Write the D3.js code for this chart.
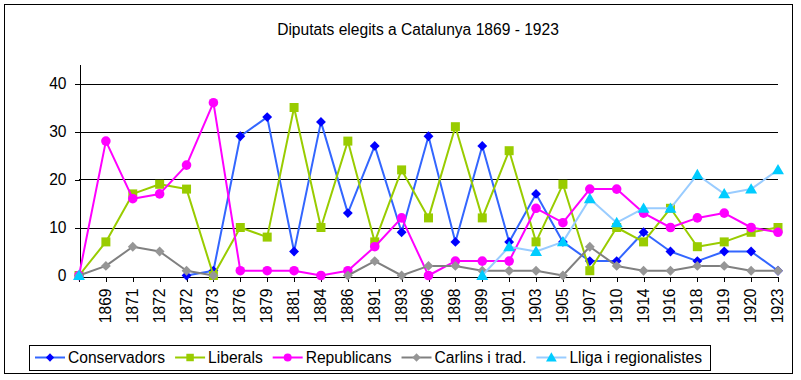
<!DOCTYPE html>
<html><head><meta charset="utf-8">
<script src="https://cdn.jsdelivr.net/npm/d3@7/dist/d3.min.js"></script>
<style>body{margin:0;background:#fff} text{font-family:Arial,"Liberation Sans",sans-serif;fill:#000}</style>
</head><body><svg id="c" width="801" height="380"></svg>
<script>
const title = "Diputats elegits a Catalunya 1869 - 1923";
const categories = ["", "1869", "1871", "1872", "1872", "1873", "1876", "1879", "1881", "1884", "1886", "1891", "1893", "1896", "1898", "1899", "1901", "1903", "1905", "1907", "1910", "1914", "1916", "1918", "1919", "1920", "1923"];
const yTicks = [0, 10, 20, 30, 40];
const conservadors = [null, null, null, null, 0, 1, 29, 33, 5, 32, 13, 27, 9, 29, 7, 27, 7, 17, 7, 3, 3, 9, 5, 3, 5, 5, 1];
const liberals = [0, 7, 17, 19, 18, 0, 10, 8, 35, 10, 28, 7, 22, 12, 31, 12, 26, 7, 19, 1, 10, 7, 14, 6, 7, 9, 10];
const republicans = [0, 28, 16, 17, 23, 36, 1, 1, 1, 0, 1, 6, 12, 0, 3, 3, 3, 14, 11, 18, 18, 13, 10, 12, 13, 10, 9];
const carlins = [0, 2, 6, 5, 1, 0, null, null, null, null, 0, 3, 0, 2, 2, 1, 1, 1, 0, 6, 2, 1, 1, 2, 2, 1, 1];
const lliga = [0, null, null, null, null, null, null, null, null, null, null, null, null, null, null, 0, 6, 5, 7, 16, 11, 14, 14, 21, 17, 18, 22];
const seriesNames = ["Conservadors", "Liberals", "Republicans", "Carlins i trad.", "Lliga i regionalistes"];

const series = [
  {name: seriesNames[0], values: conservadors, line: "#3366FF", fill: "#0000FF", shape: "diamond"},
  {name: seriesNames[1], values: liberals, line: "#99CC00", fill: "#99CC00", shape: "square"},
  {name: seriesNames[2], values: republicans, line: "#FF00FF", fill: "#FF00FF", shape: "circle"},
  {name: seriesNames[3], values: carlins, line: "#808080", fill: "#969696", shape: "diamond"},
  {name: seriesNames[4], values: lliga, line: "#99CCFF", fill: "#00CCFF", shape: "triangle"}
];

const FS = "15.6px";
const svg = d3.select("#c");
svg.append("rect").attr("x", 4.5).attr("y", 4.5).attr("width", 788).attr("height", 369)
  .attr("fill", "#fff").attr("stroke", "#000").attr("stroke-width", 1);

svg.append("text").attr("x", 418).attr("y", 35).attr("text-anchor", "middle")
  .style("font-size", FS).text(title);

const idx = categories.map((d, i) => i);
const x = d3.scalePoint().domain(idx).range([79, 778]);
const y = d3.scaleLinear().domain([0, 44]).range([275.5, 64.3]);

// gridlines
svg.append("g").selectAll("line").data(yTicks.filter(d => d > 0)).join("line")
  .attr("x1", 79).attr("x2", 778)
  .attr("y1", d => Math.round(y(d)) + 0.5).attr("y2", d => Math.round(y(d)) + 0.5)
  .attr("stroke", "#000").attr("shape-rendering", "crispEdges");

// y axis
const yAxis = d3.axisLeft(y).tickValues(yTicks).tickSize(5).tickPadding(8).tickSizeOuter(0);
const gy = svg.append("g").attr("transform", "translate(79.5,0)").call(yAxis);
gy.selectAll("text").style("font-size", FS).attr("font-family", null);
gy.selectAll("line,path").attr("stroke", "#000").attr("shape-rendering", "crispEdges");

// x axis
const xAxis = d3.axisBottom(x).tickFormat(i => categories[i]).tickSize(5).tickSizeOuter(0);
const gx = svg.append("g").attr("transform", "translate(0," + (Math.round(y(0)) + 0.5) + ")").call(xAxis);
gx.selectAll("line,path").attr("stroke", "#000").attr("shape-rendering", "crispEdges");
gx.selectAll("text").style("font-size", FS).attr("font-family", null)
  .attr("transform", "rotate(-90)").attr("text-anchor", "end")
  .attr("x", -12).attr("y", -1).attr("dy", "0.35em");

const sym = {
  diamond: d3.symbol().type(d3.symbolDiamond2).size(62)(),
  square: d3.symbol().type(d3.symbolSquare).size(81)(),
  circle: d3.symbol().type(d3.symbolCircle).size(72)(),
  triangle: d3.symbol().type(d3.symbolTriangle).size(62)()
};
const symSmall = {
  diamond: d3.symbol().type(d3.symbolDiamond2).size(44)(),
  square: d3.symbol().type(d3.symbolSquare).size(56)(),
  circle: d3.symbol().type(d3.symbolCircle).size(50)(),
  triangle: d3.symbol().type(d3.symbolTriangle).size(50)()
};

const line = d3.line().defined(d => d != null).x((d, i) => x(i)).y(d => y(d));
series.forEach(s => {
  const g = svg.append("g");
  g.append("path").attr("d", line(s.values)).attr("fill", "none")
    .attr("stroke", s.line).attr("stroke-width", 2).attr("stroke-linejoin", "round");
  g.selectAll("path.m").data(s.values.map((v, i) => ({v, i})).filter(d => d.v != null)).join("path")
    .attr("class", "m").attr("d", sym[s.shape])
    .attr("transform", d => "translate(" + x(d.i) + "," + (y(d.v) + (s.shape === "triangle" ? 1 : 0)) + ")")
    .attr("fill", s.fill);
});

// legend
const lg = svg.append("g");
const box = lg.append("rect").attr("y", 345.5).attr("height", 25).attr("fill", "#fff")
  .attr("stroke", "#000").attr("x", 29.5);
let cx = 35;
series.forEach(s => {
  lg.append("line").attr("x1", cx).attr("x2", cx + 30).attr("y1", 357.5).attr("y2", 357.5)
    .attr("stroke", s.line).attr("stroke-width", 2);
  lg.append("path").attr("d", symSmall[s.shape])
    .attr("transform", "translate(" + (cx + 15) + "," + (357.5 + (s.shape === "triangle" ? 1 : 0)) + ")")
    .attr("fill", s.fill);
  const t = lg.append("text").attr("x", cx + 33).attr("y", 363).style("font-size", FS).text(s.name);
  cx += 33 + t.node().getComputedTextLength() + 10;
});
box.attr("width", 710.5 - 29.5);
</script></body></html>
